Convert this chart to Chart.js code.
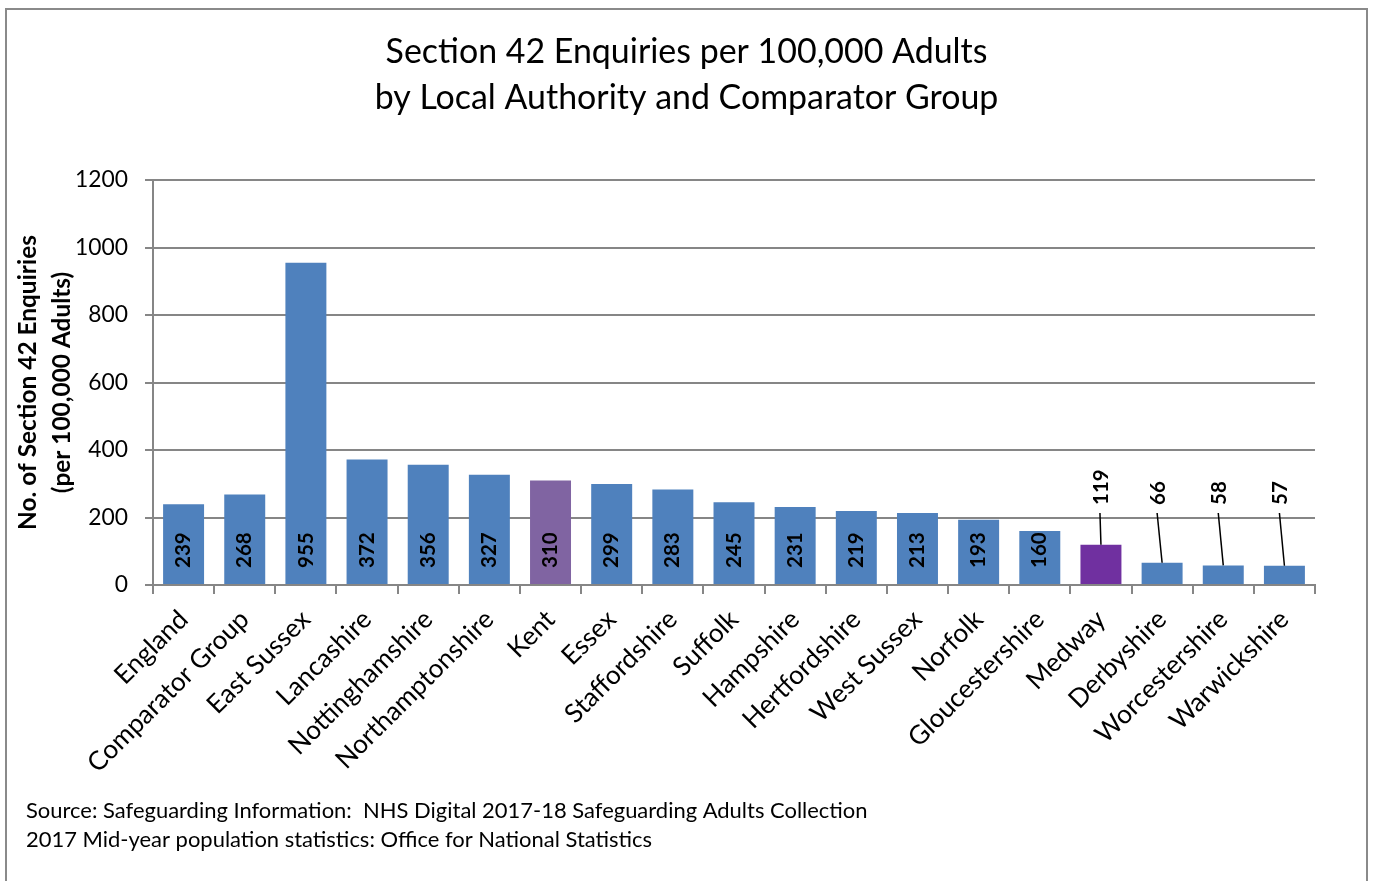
<!DOCTYPE html>
<html>
<head>
<meta charset="utf-8">
<script src="https://cdn.jsdelivr.net/npm/chart.js@4.4.1/dist/chart.umd.min.js"></script>
<style>
  html, body { margin: 0; padding: 0; background: #fff; font-family: Lato; }
  #wrap { position: absolute; left: 0; top: 0; width: 1373px; height: 881px; }
</style>
</head>
<body>
<div id="wrap"><canvas id="c"></canvas></div>
<script>
// ---- Data ----
const categories = ["England", "Comparator Group", "East Sussex", "Lancashire", "Nottinghamshire",
  "Northamptonshire", "Kent", "Essex", "Staffordshire", "Suffolk", "Hampshire", "Hertfordshire",
  "West Sussex", "Norfolk", "Gloucestershire", "Medway", "Derbyshire", "Worcestershire", "Warwickshire"];
const enquiriesPer100k = [239, 268, 955, 372, 356, 327, 310, 299, 283, 245, 231, 219, 213, 193, 160, 119, 66, 58, 57];
const yTickMin = 0, yTickMax = 1200, yTickStep = 200;
const titleLines = ["Section 42 Enquiries per 100,000 Adults", "by Local Authority and Comparator Group"];
const yTitleLines = ["No. of Section 42 Enquiries", "(per 100,000 Adults)"];
const sourceLines = ["Source: Safeguarding Information:  NHS Digital 2017-18 Safeguarding Adults Collection",
  "2017 Mid-year population statistics: Office for National Statistics"];

// ---- Styles ----
const FONT = "Lato, 'Open Sans', sans-serif";
const BLUE = "#4F81BD", KENT = "#8064A2", MEDWAY = "#7030A0";
const barColors = categories.map(c => c === "Kent" ? KENT : (c === "Medway" ? MEDWAY : BLUE));

function build() {
  const mctx = document.createElement('canvas').getContext('2d');
  function fitSize(text, weight, target) {
    mctx.font = weight + " 100px " + FONT;
    return 100 * target / mctx.measureText(text).width;
  }
  const titleSize = fitSize(titleLines[0], "normal", 602);
  const srcSize = fitSize(sourceLines[0], "normal", 842);
  const xLabSize = fitSize("Comparator Group", "normal", 216);
  const yTickSize = fitSize("1200", "normal", 53);
  const dlSize = 20.5;
  const yTitleSize = fitSize(yTitleLines[0], "bold", 295);

  const decorPlugin = {
    id: 'decor',
    beforeDraw(chart) {
      const ctx = chart.ctx;
      ctx.save();
      ctx.fillStyle = '#fff';
      ctx.fillRect(0, 0, chart.width, chart.height);
      ctx.strokeStyle = '#8a8a8a';
      ctx.lineWidth = 2;
      ctx.strokeRect(6, 9, 1361, 900);
      ctx.fillStyle = '#000';
      ctx.textAlign = 'center';
      ctx.textBaseline = 'middle';
      ctx.font = "normal " + titleSize + "px " + FONT;
      ctx.fillText(titleLines[0], chart.width / 2, 52);
      ctx.fillText(titleLines[1], chart.width / 2, 98);
      ctx.textAlign = 'left';
      ctx.font = "normal " + srcSize + "px " + FONT;
      ctx.fillText(sourceLines[0], 26, 811);
      ctx.fillText(sourceLines[1], 26, 840);
      ctx.restore();
    },
    afterDatasetsDraw(chart) {
      const ctx = chart.ctx;
      const meta = chart.getDatasetMeta(0);
      const yScale = chart.scales.y;
      const base = yScale.getPixelForValue(0);
      const outsideLevel = yScale.getPixelForValue(237);
      ctx.save();
      ctx.fillStyle = '#000';
      ctx.font = "bold " + dlSize + "px " + FONT;
      ctx.textBaseline = 'middle';
      ctx.textAlign = 'left';
      meta.data.forEach((bar, i) => {
        const v = enquiriesPer100k[i];
        const txt = String(v);
        if (v >= 150) {
          ctx.save();
          ctx.translate(bar.x, base - 17);
          ctx.rotate(-Math.PI / 2);
          ctx.fillText(txt, 0, 0);
          ctx.restore();
        } else {
          const lx = bar.x - (categories[i] === "Medway" ? 0 : 4);
          ctx.save();
          ctx.translate(lx, outsideLevel);
          ctx.rotate(-Math.PI / 2);
          ctx.fillText(txt, 0, 0);
          ctx.restore();
          ctx.beginPath();
          ctx.strokeStyle = '#000';
          ctx.lineWidth = 1.5;
          ctx.moveTo(lx - 1, outsideLevel + 8);
          ctx.lineTo(bar.x, bar.y);
          ctx.stroke();
        }
      });
      ctx.restore();
    }
  };

  new Chart(document.getElementById('c'), {
    type: 'bar',
    data: {
      labels: categories,
      datasets: [{
        data: enquiriesPer100k,
        backgroundColor: barColors,
        borderWidth: 0,
        barPercentage: 0.67,
        categoryPercentage: 1.0
      }]
    },
    options: {
      responsive: true,
      maintainAspectRatio: false,
      animation: false,
      devicePixelRatio: 1,
      layout: { padding: { top: 180, right: 58, bottom: 0, left: 0 } },
      plugins: { legend: { display: false }, tooltip: { enabled: false }, title: { display: false } },
      scales: {
        x: {
          offset: true,
          grid: { display: true, drawOnChartArea: false, drawTicks: true, tickLength: 9, color: '#868686', lineWidth: 2, offset: true },
          border: { display: true, color: '#868686', width: 2 },
          ticks: { autoSkip: false, maxRotation: 45, minRotation: 45, color: '#000', padding: 10,
            font: { family: FONT, size: xLabSize } },
          afterFit(scale) { scale.height = 881 - 585; }
        },
        y: {
          min: yTickMin, max: yTickMax,
          grid: { color: '#868686', lineWidth: 2, tickLength: 8, drawTicks: true },
          border: { display: true, color: '#868686', width: 2 },
          ticks: { stepSize: yTickStep, color: '#000', padding: 17, font: { family: FONT, size: yTickSize },
            callback: (v) => String(v) },
          title: { display: true, text: yTitleLines, color: '#000', padding: { top: 11, bottom: 0 },
            font: { family: FONT, size: yTitleSize, weight: 'bold', lineHeight: 34 / yTitleSize } },
          afterFit(scale) { scale.width = 153; }
        }
      }
    },
    plugins: [decorPlugin]
  });
}

Promise.all([
  document.fonts.load("normal 20px Lato"),
  document.fonts.load("bold 20px Lato")
]).then(build, build);
</script>
</body>
</html>
